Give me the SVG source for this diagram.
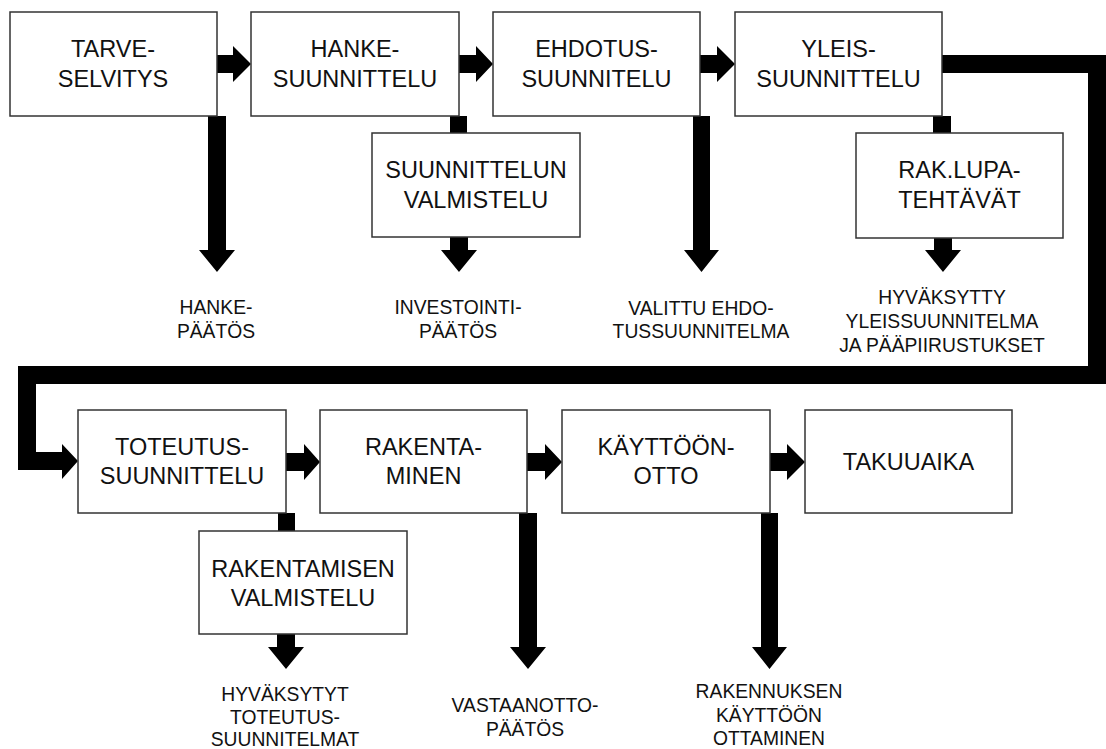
<svg xmlns="http://www.w3.org/2000/svg" width="1106" height="749" viewBox="0 0 1106 749">
  <style>
    .box { fill: #ffffff; stroke: #333333; stroke-width: 1.5; }
    .conn { fill: #000000; stroke: none; }
    .t { font-family: "Liberation Sans", Arial, sans-serif; font-size: 23.5px; fill: #111111; text-anchor: middle; }
    .lbl { font-family: "Liberation Sans", Arial, sans-serif; font-size: 19.3px; fill: #111111; text-anchor: middle; }
  </style>
  <rect width="1106" height="749" fill="#ffffff"/>

  <!-- block arrows and links -->
  <g id="connectors">
    <!-- top row, left to right -->
    <polygon class="conn" points="217,55 233,55 233,46 251,64 233,82 233,73 217,73"/>
    <polygon class="conn" points="459,55 476,55 476,46 493,64 476,82 476,73 459,73"/>
    <polygon class="conn" points="700,55 717,55 717,46 735,64 717,82 717,73 700,73"/>
    <!-- return band from the top row to the bottom row -->
    <polygon class="conn" points="942,55 1106,55 1106,384 36,384 36,452 62,452 62,444 78,461 62,479 62,470 18,470 18,366 1088,366 1088,73 942,73"/>
    <!-- bottom row, left to right -->
    <polygon class="conn" points="286,453 304,453 304,444 320,462 304,480 304,471 286,471"/>
    <polygon class="conn" points="527,453 545,453 545,444 562,462 545,480 545,471 527,471"/>
    <polygon class="conn" points="770,453 787,453 787,444 805,462 787,480 787,471 770,471"/>
    <!-- links to sub-tasks -->
    <rect class="conn" x="450" y="116" width="17" height="17"/>
    <rect class="conn" x="933" y="116" width="18" height="17"/>
    <rect class="conn" x="278" y="513" width="17" height="18"/>
    <!-- decision arrows -->
    <polygon class="conn" points="208,116 226,116 226,250 235,250 217,272 199,250 208,250"/>
    <polygon class="conn" points="450,237 468,237 468,250 477,250 459,272 441,250 450,250"/>
    <polygon class="conn" points="693,116 710,116 710,250 719,250 701.5,272 684,250 693,250"/>
    <polygon class="conn" points="934,237 952,237 952,250 961,250 943,272 925,250 934,250"/>
    <polygon class="conn" points="277,634 295,634 295,647 304,647 286,669 268,647 277,647"/>
    <polygon class="conn" points="519,513 537,513 537,647 546,647 528,669 510,647 519,647"/>
    <polygon class="conn" points="761,513 778,513 778,647 787,647 769.5,669 752,647 761,647"/>
  </g>

  <g id="tarveselvitys">
    <rect class="box" x="10" y="12" width="207" height="104"/>
    <text class="t" x="113" y="57">TARVE-</text>
    <text class="t" x="113" y="87">SELVITYS</text>
  </g>
  <g id="hankesuunnittelu">
    <rect class="box" x="251" y="12" width="208" height="104"/>
    <text class="t" x="355" y="57">HANKE-</text>
    <text class="t" x="355" y="87">SUUNNITTELU</text>
  </g>
  <g id="ehdotussuunnitelu">
    <rect class="box" x="493" y="12" width="207" height="104"/>
    <text class="t" x="596.5" y="57">EHDOTUS-</text>
    <text class="t" x="596.5" y="87">SUUNNITELU</text>
  </g>
  <g id="yleissuunnittelu">
    <rect class="box" x="735" y="12" width="207" height="104"/>
    <text class="t" x="838.5" y="57">YLEIS-</text>
    <text class="t" x="838.5" y="87">SUUNNITTELU</text>
  </g>
  <g id="suunnittelun-valmistelu">
    <rect class="box" x="372" y="133" width="208" height="104"/>
    <text class="t" x="476" y="178">SUUNNITTELUN</text>
    <text class="t" x="476" y="208">VALMISTELU</text>
  </g>
  <g id="rakluvat">
    <rect class="box" x="856" y="133" width="207" height="105"/>
    <text class="t" x="959.5" y="178">RAK.LUPA-</text>
    <text class="t" x="959.5" y="208">TEHTÄVÄT</text>
  </g>
  <g id="toteutussuunnittelu">
    <rect class="box" x="78" y="410" width="208" height="103"/>
    <text class="t" x="182" y="455">TOTEUTUS-</text>
    <text class="t" x="182" y="484">SUUNNITTELU</text>
  </g>
  <g id="rakentaminen">
    <rect class="box" x="320" y="410" width="207" height="103"/>
    <text class="t" x="423.5" y="455">RAKENTA-</text>
    <text class="t" x="423.5" y="484">MINEN</text>
  </g>
  <g id="kayttoonotto">
    <rect class="box" x="562" y="410" width="208" height="103"/>
    <text class="t" x="666" y="455">KÄYTTÖÖN-</text>
    <text class="t" x="666" y="484">OTTO</text>
  </g>
  <g id="takuuaika">
    <rect class="box" x="805" y="410" width="207" height="103"/>
    <text class="t" x="908.5" y="470">TAKUUAIKA</text>
  </g>
  <g id="rakentamisen-valmistelu">
    <rect class="box" x="199" y="531" width="208" height="103"/>
    <text class="t" x="303" y="577">RAKENTAMISEN</text>
    <text class="t" x="303" y="606">VALMISTELU</text>
  </g>

  <!-- decisions and results -->
  <g id="hankepaatos">
    <text class="lbl" x="216" y="314">HANKE-</text>
    <text class="lbl" x="216" y="338">PÄÄTÖS</text>
  </g>
  <g id="investointipaatos">
    <text class="lbl" x="458" y="314">INVESTOINTI-</text>
    <text class="lbl" x="458" y="338">PÄÄTÖS</text>
  </g>
  <g id="valittu-ehdotus">
    <text class="lbl" x="701" y="315">VALITTU EHDO-</text>
    <text class="lbl" x="701" y="338">TUSSUUNNITELMA</text>
  </g>
  <g id="hyvaksytty-yleissuunnitelma">
    <text class="lbl" x="942" y="304">HYVÄKSYTTY</text>
    <text class="lbl" x="942" y="328">YLEISSUUNNITELMA</text>
    <text class="lbl" x="942" y="352">JA PÄÄPIIRUSTUKSET</text>
  </g>
  <g id="hyvaksytyt-toteutussuunnitelmat">
    <text class="lbl" x="285" y="701">HYVÄKSYTYT</text>
    <text class="lbl" x="285" y="724">TOTEUTUS-</text>
    <text class="lbl" x="285" y="746">SUUNNITELMAT</text>
  </g>
  <g id="vastaanottopaatos">
    <text class="lbl" x="525" y="712">VASTAANOTTO-</text>
    <text class="lbl" x="525" y="736">PÄÄTÖS</text>
  </g>
  <g id="kayttoonottaminen">
    <text class="lbl" x="769" y="698">RAKENNUKSEN</text>
    <text class="lbl" x="769" y="722">KÄYTTÖÖN</text>
    <text class="lbl" x="769" y="745">OTTAMINEN</text>
  </g>
</svg>
